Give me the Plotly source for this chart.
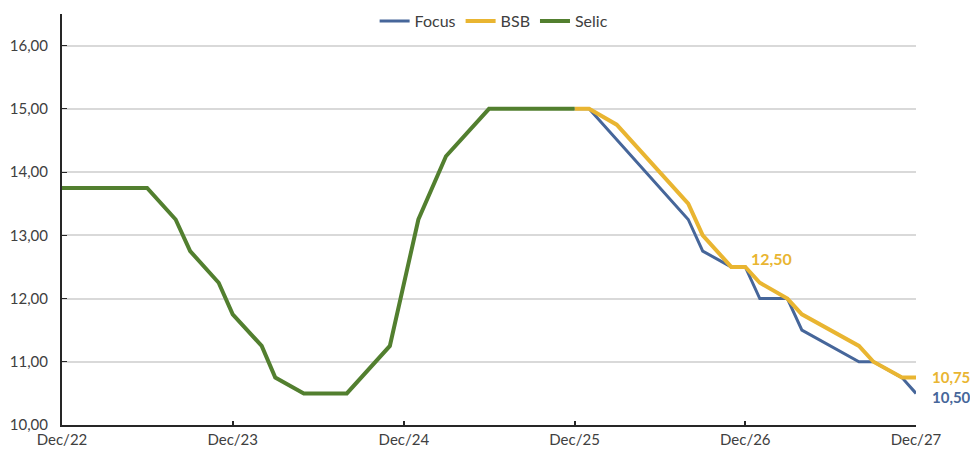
import plotly.graph_objects as go

# Selic (realized)
selic_dates = ["2022-12-01", "2023-06-01", "2023-08-01", "2023-09-01", "2023-11-01",
               "2023-12-01", "2024-02-01", "2024-03-01", "2024-05-01", "2024-08-01",
               "2024-11-01", "2025-01-01", "2025-03-01", "2025-06-01", "2025-12-01"]
selic_vals = [13.75, 13.75, 13.25, 12.75, 12.25,
              11.75, 11.25, 10.75, 10.50, 10.50,
              11.25, 13.25, 14.25, 15.00, 15.00]

# Focus projection
focus_dates = ["2025-12-01", "2026-01-01", "2026-08-01", "2026-09-01", "2026-11-01",
               "2026-12-01", "2027-01-01", "2027-03-01", "2027-04-01", "2027-08-01",
               "2027-09-01", "2027-11-01", "2027-12-01"]
focus_vals = [15.00, 15.00, 13.25, 12.75, 12.50,
              12.50, 12.00, 12.00, 11.50, 11.00,
              11.00, 10.75, 10.50]

# BSB projection
bsb_dates = ["2025-12-01", "2026-01-01", "2026-03-01", "2026-08-01", "2026-09-01",
             "2026-11-01", "2026-12-01", "2027-01-01", "2027-03-01", "2027-04-01",
             "2027-08-01", "2027-09-01", "2027-11-01", "2027-12-01"]
bsb_vals = [15.00, 15.00, 14.75, 13.50, 13.00,
            12.50, 12.50, 12.25, 12.00, 11.75,
            11.25, 11.00, 10.75, 10.75]

tick_dates = ["2022-12-01", "2023-12-01", "2024-12-01", "2025-12-01", "2026-12-01", "2027-12-01"]
tick_labels = ["Dec/22", "Dec/23", "Dec/24", "Dec/25", "Dec/26", "Dec/27"]
y_ticks = [10, 11, 12, 13, 14, 15, 16]

BLUE = "#46669a"
GOLD = "#e9b531"
GREEN = "#527f2f"
FONT = "Lato"

W, H = 970, 443  # page body has an 8px margin


def fmt(v):
    return f"{v:.2f}".replace(".", ",")


fig = go.Figure()
fig.add_trace(go.Scatter(x=focus_dates, y=focus_vals, mode="lines", name="Focus",
                         line=dict(color=BLUE, width=3)))
fig.add_trace(go.Scatter(x=bsb_dates, y=bsb_vals, mode="lines", name="BSB",
                         line=dict(color=GOLD, width=4)))
fig.add_trace(go.Scatter(x=selic_dates, y=selic_vals, mode="lines", name="Selic",
                         line=dict(color=GREEN, width=4)))

fig.add_annotation(x=bsb_dates[6], y=bsb_vals[6], text=f"<b>{fmt(bsb_vals[6])}</b>",
                   showarrow=False, xanchor="left", yanchor="middle", xshift=4, yshift=8,
                   font=dict(family=FONT, size=16, color=GOLD))
end_text = (f"<b><span style='color:{GOLD}'>{fmt(bsb_vals[-1])}</span><br>"
            f"<span style='color:{BLUE}'>{fmt(focus_vals[-1])}</span></b>")
fig.add_annotation(x=bsb_dates[-1], y=(bsb_vals[-1] + focus_vals[-1]) / 2, text=end_text,
                   showarrow=False, xanchor="left", yanchor="middle", align="left",
                   xshift=14, yshift=-2,
                   font=dict(family=FONT, size=15, color=BLUE))

fig.update_layout(
    width=W, height=H,
    margin=dict(l=54, r=62, t=6, b=26, autoexpand=False),
    paper_bgcolor="white", plot_bgcolor="white",
    separators=",.",
    font=dict(family=FONT, size=15, color="#404040"),
    showlegend=True,
    legend=dict(orientation="h", x=0.506, xanchor="center",
                yref="container", y=1 - 13 / H, yanchor="middle",
                bgcolor="rgba(0,0,0,0)", font=dict(size=16, color="#404040"),
                traceorder="normal", itemwidth=30),
    xaxis=dict(type="date", range=["2022-12-01", "2027-12-01"],
               tickvals=tick_dates, ticktext=tick_labels, automargin=False,
               showgrid=False, showline=True, linecolor="#262626", linewidth=2,
               ticks="inside", ticklen=4, tickcolor="#262626", tickwidth=1.5,
               tickfont=dict(size=15, color="#404040"), zeroline=False),
    yaxis=dict(range=[10, 16.5], tickvals=y_ticks, tickformat=".2f", automargin=False,
               showgrid=True, gridcolor="#d9d9d9", gridwidth=1.5,
               showline=True, linecolor="#262626", linewidth=2,
               ticks="inside", ticklen=5, tickcolor="#262626",
               tickfont=dict(size=15, color="#404040"), zeroline=False,
               ticklabelstandoff=9),
)

fig.write_html("out.html")
